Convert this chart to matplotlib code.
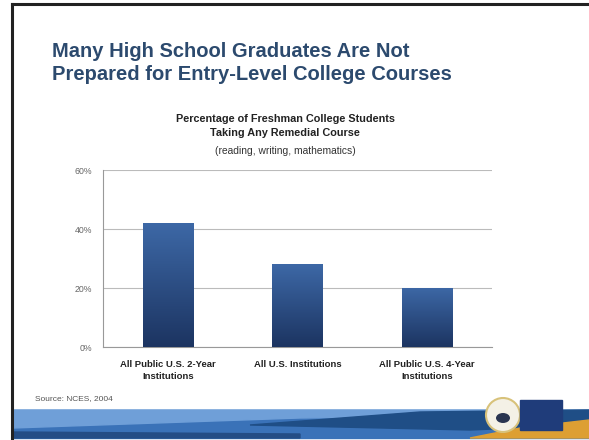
import numpy as np
import matplotlib.pyplot as plt
from matplotlib.patches import Rectangle, Polygon, Ellipse
from matplotlib.colors import LinearSegmentedColormap

categories = ['All Public U.S. 2-Year\nInstitutions', 'All U.S. Institutions',
              'All Public U.S. 4-Year\nInstitutions']
valores = [42, 28, 20]
yticks = [0, 20, 40, 60]

plt.rcParams['font.family'] = ['Liberation Sans', 'DejaVu Sans']

W, H = 589, 440
fig = plt.figure(figsize=(5.89, 4.40), dpi=100)
fig.patch.set_facecolor('white')


def px(x, y):
    # pixel (topo-esquerda) -> coordenadas da figura
    return (x / W, 1 - y / H)


# moldura do slide
fig.add_artist(plt.Line2D([12 / W, 12 / W], [2 / H, 1 - 4 / H], color='#222222', lw=2.2))
fig.add_artist(plt.Line2D([12 / W, 1], [1 - 4 / H, 1 - 4 / H], color='#222222', lw=2.2))

# faixa inferior
fig.add_artist(Polygon([px(13, 410), px(589, 410), px(589, 438), px(13, 438)], closed=True,
                       transform=fig.transFigure, color='#3a72b8', zorder=0))
fig.add_artist(Polygon([px(13, 410), px(589, 410), px(589, 415), px(300, 418), px(13, 428)],
                       closed=True, transform=fig.transFigure, color='#6f9fd8', zorder=0))
fig.add_artist(Polygon([px(250, 425), px(420, 412), px(589, 410), px(589, 425), px(470, 430)],
                       closed=True, transform=fig.transFigure, color='#1f4e86', zorder=0))
fig.add_artist(Polygon([px(13, 432), px(300, 434), px(300, 438), px(13, 438)],
                       closed=True, transform=fig.transFigure, color='#244d85', zorder=0))
fig.add_artist(Polygon([px(470, 438), px(520, 428), px(589, 420), px(589, 438)], closed=True,
                       transform=fig.transFigure, color='#dd9f33', zorder=0))

# logotipo
fig.add_artist(Ellipse(px(503, 415), 34 / W, 34 / H, transform=fig.transFigure,
                       facecolor='#f4f1e6', edgecolor='#d8c27a', lw=1.5, zorder=2))
fig.add_artist(Ellipse(px(503, 418), 14 / W, 10 / H, transform=fig.transFigure,
                       facecolor='#2a3550', edgecolor='none', zorder=3))
fig.add_artist(Rectangle(px(520, 430), 42 / W, 30 / H, transform=fig.transFigure,
                         color='#1f3c7a', zorder=2))

fig.text(52 / W, 1 - 63 / H, 'Many High School Graduates Are Not\nPrepared for Entry-Level College Courses',
         fontsize=14.5, fontweight='bold', color='#2c4a6e', va='center', ha='left', linespacing=1.3)

fig.text(285 / W, 1 - 126 / H, 'Percentage of Freshman College Students\nTaking Any Remedial Course',
         fontsize=7.8, fontweight='bold', color='#222222', ha='center', va='center', linespacing=1.45)
fig.text(285 / W, 1 - 151 / H, '(reading, writing, mathematics)',
         fontsize=7.4, color='#333333', ha='center', va='center')

fig.text(35 / W, 1 - 399 / H, 'Source: NCES, 2004', fontsize=6, color='#555555', va='center')

ax = fig.add_axes([103 / W, 1 - 347 / H, (492 - 103) / W, (347 - 170) / H])
x = np.arange(len(categories))
bars = ax.bar(x, valores, width=0.39, color='#2b4f82', zorder=3)

cmap = LinearSegmentedColormap.from_list('barra', ['#1c3461', '#3d68a6'])
grad = np.linspace(0, 1, 256).reshape(-1, 1)
for b in bars:
    bx, by = b.get_x(), b.get_y()
    im = ax.imshow(grad, cmap=cmap, origin='lower', aspect='auto', zorder=4,
                   extent=[bx, bx + b.get_width(), by, by + b.get_height()])
    im.set_clip_path(b)

ax.set_xlim(-0.5, 2.5)
ax.set_ylim(0, 60)
ax.set_yticks(yticks)
ax.set_yticklabels([f'{v}%' for v in yticks], fontsize=6.3, color='#666666')
ax.set_xticks(x)
ax.set_xticklabels(categories, fontsize=6.8, fontweight='bold', color='#222222', linespacing=1.5)
ax.tick_params(axis='x', length=0, pad=9)
ax.tick_params(axis='y', length=0, pad=8)
ax.yaxis.grid(True, color='#bbbbbb', lw=0.8, zorder=0)
for s in ['top', 'right']:
    ax.spines[s].set_visible(False)
ax.spines['left'].set_color('#999999')
ax.spines['bottom'].set_color('#999999')

fig.savefig('out.png', dpi=100)
